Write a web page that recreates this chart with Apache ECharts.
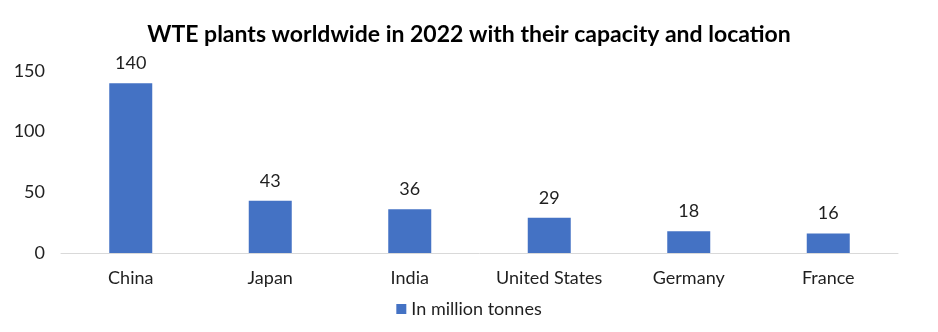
<!DOCTYPE html>
<html><head><meta charset="utf-8">
<script src="https://cdn.jsdelivr.net/npm/echarts@6/dist/echarts.min.js"></script>
<style>html,body{margin:0;padding:0;background:#fff}#c{width:938px;height:332px}</style>
</head><body><div id="c"></div>
<script>
const categories = ["China", "Japan", "India", "United States", "Germany", "France"];
const values = [140, 43, 36, 29, 18, 16];
const seriesName = "In million tonnes";
const titleText = "WTE plants worldwide in 2022 with their capacity and location";
const FONT = "Lato, sans-serif";
const TXT = '#1f1f1f';
const chart = echarts.init(document.getElementById('c'), null, {renderer: 'canvas'});
chart.setOption({
  animation: false,
  title: {text: titleText, left: 'center', top: 18,
    textStyle: {fontFamily: FONT, fontSize: 23, fontWeight: 'bold', color: '#000'}},
  grid: {left: 61, right: 40, top: 71, bottom: 79, containLabel: false},
  legend: {data: [seriesName], bottom: 9, left: 'center', itemWidth: 10, itemHeight: 10, icon: 'rect', itemGap: 6,
    textStyle: {fontFamily: FONT, fontSize: 18, color: TXT}},
  xAxis: {type: 'category', data: categories,
    axisLine: {lineStyle: {color: '#d9d9d9'}}, axisTick: {show: false},
    axisLabel: {interval: 0, fontFamily: FONT, fontSize: 18, color: TXT, margin: 16}},
  yAxis: {type: 'value', min: 0, max: 150, interval: 50,
    axisLine: {show: false}, axisTick: {show: false}, splitLine: {show: false},
    axisLabel: {fontFamily: FONT, fontSize: 18, color: TXT, margin: 16}},
  series: [{name: seriesName, type: 'bar', data: values, barWidth: 43,
    itemStyle: {color: '#4472C4'},
    label: {show: true, position: 'top', distance: 11, fontFamily: FONT, fontSize: 18, color: TXT}}]
});
</script></body></html>
